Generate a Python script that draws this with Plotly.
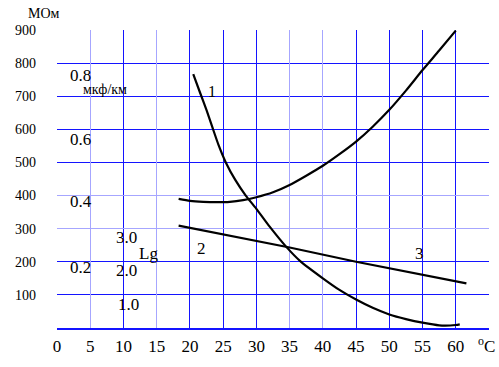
import plotly.graph_objects as go

# ---- data ----
temp_c1 = [20.5, 21.5, 22.5, 23.4, 24.3, 25.4, 26.8, 28.4, 30.0, 32.0, 34.5, 36.6, 40.0, 42.5, 45.0, 47.5, 50.0, 52.5, 55.0, 57.5, 60.0, 60.6]
mohm_c1 = [767, 712, 658, 605, 553, 500, 448, 400, 360, 306, 245, 202, 150, 115, 86, 61, 41, 27, 16, 8, 9, 11]

temp_cu = [18.3, 20, 22, 24, 26, 28, 30, 32.5, 35, 37.5, 40, 42.5, 45, 47.5, 50, 52.5, 55, 57.5, 60]
mohm_cu = [390, 384, 381, 380, 381, 386, 395, 410, 432, 460, 490, 525, 563, 608, 659, 717, 779, 838, 898]

temp_c23 = [18.3, 35.0, 45.0, 61.6]
mohm_c23 = [309, 243, 200, 135]

x_ticks = [0, 5, 10, 15, 20, 25, 30, 35, 40, 45, 50, 55, 60]
y_ticks = [100, 200, 300, 400, 500, 600, 700, 800, 900]

# grid styling (the original grid alternates dark and pale blue lines)
dark_x = [10, 20, 25, 30, 45, 50, 55, 60]
pale_x = [0, 5, 15, 35, 40, 65]
dark_y = [100, 200, 500, 600, 700, 800]
pale_y = [300, 400, 900]

# labels inside the plot (data coordinates)
labels = [
    ("0.8", 3.6, 764, 17),
    ("мкф/км", 7.2, 719, 14),
    ("0.6", 3.5, 568, 17),
    ("0.4", 3.6, 381, 17),
    ("0.2", 3.6, 182, 17),
    ("3.0", 10.5, 274, 17),
    ("Lg", 13.7, 224, 17),
    ("2.0", 10.5, 173, 17),
    ("1.0", 10.7, 72, 17),
    ("1", 23.3, 714, 16),
    ("2", 21.8, 241, 17),
    ("3", 54.5, 224, 17),
]
# unit labels outside the plot (paper coordinates)
unit_labels = [
    ("МОм", -0.030, 1.057, "middle", 14),
    ("<sup>o</sup>C", 0.995, -0.100, "bottom", 17),
]

SERIF = "Liberation Serif, Times New Roman, DejaVu Serif, serif"
DARK = "#1414ff"
PALE = "#a6a6ff"
XR = [0, 65]
YR = [0, 900]

fig = go.Figure()
line = dict(color="black", width=2.2, shape="spline", smoothing=0.6)
fig.add_trace(go.Scatter(x=temp_c1, y=mohm_c1, mode="lines", line=line, showlegend=False, hoverinfo="skip"))
fig.add_trace(go.Scatter(x=temp_cu, y=mohm_cu, mode="lines", line=line, showlegend=False, hoverinfo="skip"))
fig.add_trace(go.Scatter(x=temp_c23, y=mohm_c23, mode="lines", line=dict(color="black", width=2.2), showlegend=False, hoverinfo="skip"))
# empty traces to bring the grid-only overlay axes to life
fig.add_trace(go.Scatter(x=[], y=[], xaxis="x2", yaxis="y2", showlegend=False))
fig.add_trace(go.Scatter(x=[], y=[], xaxis="x3", yaxis="y3", showlegend=False))

for text, x, y, size in labels:
    fig.add_annotation(x=x, y=y, xref="x", yref="y", text=text, showarrow=False,
                       xanchor="center", yanchor="middle",
                       font=dict(family=SERIF, size=size, color="black"))
for text, x, y, yanc, size in unit_labels:
    fig.add_annotation(x=x, y=y, xref="paper", yref="paper", text=text, showarrow=False,
                       xanchor="center", yanchor=yanc,
                       font=dict(family=SERIF, size=size, color="black"))

fig.update_layout(
    width=499, height=367,
    margin=dict(l=57, r=10, t=30, b=39, autoexpand=False),
    paper_bgcolor="white", plot_bgcolor="white",
    font=dict(family=SERIF, color="black"),
    xaxis=dict(range=XR, tickmode="array", tickvals=x_ticks, showgrid=False, zeroline=False,
               showline=True, linecolor=DARK, linewidth=2, ticks="", ticklabelstandoff=2,
               automargin=False, tickfont=dict(family=SERIF, size=17, color="black")),
    yaxis=dict(range=YR, tickmode="array", tickvals=y_ticks, showgrid=False, zeroline=False,
               showline=False, ticks="", ticklabelstandoff=20, automargin=False,
               tickfont=dict(family=SERIF, size=14, color="black")),
    xaxis2=dict(range=XR, overlaying="x", tickmode="array", tickvals=dark_x, showgrid=True,
                gridcolor=DARK, gridwidth=1, showticklabels=False, zeroline=False, ticks="",
                automargin=False),
    yaxis2=dict(range=YR, overlaying="y", tickmode="array", tickvals=dark_y, showgrid=True,
                gridcolor=DARK, gridwidth=1, showticklabels=False, zeroline=False, ticks="",
                automargin=False),
    xaxis3=dict(range=XR, overlaying="x", tickmode="array", tickvals=pale_x, showgrid=True,
                gridcolor=PALE, gridwidth=1, showticklabels=False, zeroline=False, ticks="",
                automargin=False),
    yaxis3=dict(range=YR, overlaying="y", tickmode="array", tickvals=pale_y, showgrid=True,
                gridcolor=PALE, gridwidth=1, showticklabels=False, zeroline=False, ticks="",
                automargin=False),
)

fig.write_html("out.html", config={"displayModeBar": False},
               post_script="document.body.style.margin='0';document.body.style.overflow='hidden';")
